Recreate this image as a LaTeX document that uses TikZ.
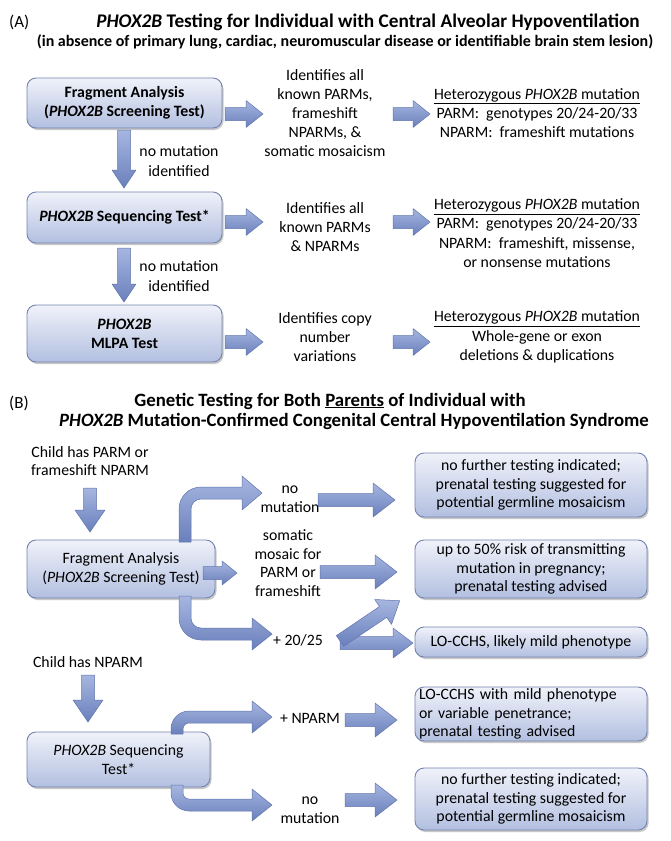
\documentclass[tikz,border=0pt]{standalone}
\usepackage{fontspec}
\setmainfont{Carlito}
\usetikzlibrary{shadows}
\definecolor{boxtop}{HTML}{F0F2FA}
\definecolor{boxbot}{HTML}{B2BFE0}
\definecolor{boxline}{HTML}{7484AE}
\definecolor{arrtop}{HTML}{A6B6E0}
\definecolor{arrbot}{HTML}{6A80BC}
\definecolor{arrline}{HTML}{6275AD}
\newcommand\bodyfnt{\fontsize{15.8}{19.2}\selectfont}
\newcommand\bodyfntB{\fontsize{15.8}{18.6}\selectfont}
\tikzset{
 gbox/.style={draw=boxline, line width=0.9pt, rounded corners=9pt, top color=boxtop, bottom color=boxbot,
   drop shadow={shadow xshift=1.5pt, shadow yshift=-2pt, opacity=0.3, fill=black!70}, inner sep=0pt, align=center},
 txt/.style={align=center, inner sep=0pt},
 barr/.style={top color=arrtop, bottom color=arrbot, draw=arrline, line width=0.5pt, line join=round},
}
\newcommand\gboxnode[7][]{%
 \pgfmathsetmacro\ZZcx{(#3+#5)/2}\pgfmathsetmacro\ZZcy{(#4+#6)/2}%
 \pgfmathsetmacro\ZZw{#5-#3}\pgfmathsetmacro\ZZh{#6-#4}%
 \node[gbox, minimum width=\ZZw pt, minimum height=\ZZh pt, #1] (#2) at (\ZZcx,\ZZcy) {#7};}
\newcommand\harr[6]{%
 \pgfmathsetmacro\ZZhx{#2-#6}%
 \path[barr] (#1,#3-#4) -- (\ZZhx,#3-#4) -- (\ZZhx,#3-#5) -- (#2,#3) -- (\ZZhx,#3+#5) -- (\ZZhx,#3+#4) -- (#1,#3+#4) -- cycle;}
\newcommand\varr[6]{%
 \pgfmathsetmacro\ZZhy{#3-#6}%
 \path[barr] (#1-#4,#2) -- (#1-#4,\ZZhy) -- (#1-#5,\ZZhy) -- (#1,#3) -- (#1+#5,\ZZhy) -- (#1+#4,\ZZhy) -- (#1+#4,#2) -- cycle;}
\newcommand\carr[8]{%
 \pgfmathsetmacro\ZZs{(#3>#2)?1:-1}%
 \pgfmathsetmacro\ZZxL{#1-#5}\pgfmathsetmacro\ZZxR{#1+#5}%
 \pgfmathsetmacro\ZZyO{#3+\ZZs*#5}\pgfmathsetmacro\ZZyI{#3-\ZZs*#5}%
 \pgfmathsetmacro\ZZr{#8}\pgfmathsetmacro\ZZri{max(#8-2*#5,0.01)}%
 \pgfmathsetmacro\ZZhx{#4-#7}%
 \pgfmathsetmacro\ZZaA{\ZZyO-\ZZs*\ZZr}\pgfmathsetmacro\ZZaB{\ZZyO-\ZZs*\ZZr*0.448}%
 \pgfmathsetmacro\ZZaC{\ZZxL+\ZZr*0.448}\pgfmathsetmacro\ZZaD{\ZZxL+\ZZr}%
 \pgfmathsetmacro\ZZbA{\ZZxR+\ZZri}\pgfmathsetmacro\ZZbB{\ZZxR+\ZZri*0.448}%
 \pgfmathsetmacro\ZZbC{\ZZyI-\ZZs*\ZZri*0.448}\pgfmathsetmacro\ZZbD{\ZZyI-\ZZs*\ZZri}%
 \pgfmathsetmacro\ZZhA{#3+\ZZs*#6}\pgfmathsetmacro\ZZhB{#3-\ZZs*#6}%
 \path[barr] (\ZZxL,#2) -- (\ZZxL,\ZZaA) .. controls (\ZZxL,\ZZaB) and (\ZZaC,\ZZyO) .. (\ZZaD,\ZZyO)
   -- (\ZZhx,\ZZyO) -- (\ZZhx,\ZZhA) -- (#4,#3) -- (\ZZhx,\ZZhB) -- (\ZZhx,\ZZyI)
   -- (\ZZbA,\ZZyI) .. controls (\ZZbB,\ZZyI) and (\ZZxR,\ZZbC) .. (\ZZxR,\ZZbD) -- (\ZZxR,#2) -- cycle;}
\begin{document}
\begin{tikzpicture}[x=1pt,y=-1pt]
\fill[white] (0,0) rectangle (670,841);
\useasboundingbox (0,0) rectangle (670,841);

% ---------------- Part A ----------------
\node[txt, anchor=west, font=\fontsize{17}{20}\selectfont] (labA) at (9,22) {(A)};
\node[txt, font=\fontsize{19.3}{22}\selectfont\bfseries] (titA1) at (368,22) {\textit{PHOX2B} Testing for Individual with Central Alveolar Hypoventilation};
\node[txt, font=\fontsize{16}{19}\selectfont\bfseries] (titA2) at (345,42) {(in absence of primary lung, cardiac, neuromuscular disease or identifiable brain stem lesion)};

\gboxnode[font=\bodyfnt\bfseries]{boxA1}{27}{78}{222}{128}{Fragment Analysis\\(\textit{PHOX2B} Screening Test)}
\gboxnode[font=\bodyfnt\bfseries]{boxA2}{27}{192}{222}{243}{\textit{PHOX2B} Sequencing Test*}
\gboxnode[font=\bodyfnt\bfseries]{boxA3}{27}{305}{222}{362}{\textit{PHOX2B}\\MLPA Test}

\harr{225}{263}{114}{6.5}{13.5}{17}
\harr{393}{430}{114}{6.5}{13.5}{17}
\harr{225}{263}{222}{6.5}{13.5}{17}
\harr{393}{430}{222}{6.5}{13.5}{17}
\harr{225}{263}{342}{6.5}{13.5}{17}
\harr{393}{430}{342}{6.5}{13.5}{17}
\varr{124}{130}{188}{6.5}{12}{18}
\varr{124}{248}{302}{6.5}{12}{18}

\node[txt, font=\bodyfnt] (midA1) at (325,113) {Identifies all\\known PARMs,\\frameshift\\NPARMs, \&\\somatic mosaicism};
\node[txt, font=\bodyfnt] (midA2) at (325,227) {Identifies all\\known PARMs\\\& NPARMs};
\node[txt, font=\bodyfnt] (midA3) at (325,337) {Identifies copy\\number\\variations};
\node[txt, font=\bodyfnt] (rA1) at (537,113) {\underline{Heterozygous \textit{PHOX2B} mutation}\\PARM:\ \ genotypes 20/24-20/33\\NPARM:\ \ frameshift mutations};
\node[txt, font=\bodyfnt] (rA2) at (537,233) {\underline{Heterozygous \textit{PHOX2B} mutation}\\PARM:\ \ genotypes 20/24-20/33\\NPARM:\ \ frameshift, missense,\\or nonsense mutations};
\node[txt, font=\bodyfnt] (rA3) at (537,337) {\underline{Heterozygous \textit{PHOX2B} mutation}\\Whole-gene or exon\\deletions \& duplications};
\node[txt, font=\bodyfnt] (nmA1) at (179,161) {no mutation\\identified};
\node[txt, font=\bodyfnt] (nmA2) at (179,276) {no mutation\\identified};

% ---------------- Part B ----------------
\node[txt, anchor=west, font=\fontsize{17}{20}\selectfont] (labB) at (9,403) {(B)};
\node[txt, font=\fontsize{18.8}{22}\selectfont\bfseries] (titB1) at (330,401) {Genetic Testing for Both \underline{Parents} of Individual with};
\node[txt, font=\fontsize{18.8}{22}\selectfont\bfseries] (titB2) at (354,421) {\textit{PHOX2B} Mutation-Confirmed Congenital Central Hypoventilation Syndrome};

\node[txt, font=\bodyfntB] (chB1) at (90,461) {Child has PARM or\\frameshift NPARM};
\node[txt, font=\bodyfntB] (chB2) at (88,662) {Child has NPARM};
\varr{90}{488}{532}{6.5}{15}{22}
\varr{88}{675}{722}{6.5}{15}{22}

\gboxnode[font=\bodyfntB]{boxB1}{27}{540}{215}{598}{Fragment Analysis\\(\textit{PHOX2B} Screening Test)}
\gboxnode[font=\bodyfntB]{boxB2}{27}{732}{210}{787}{\textit{PHOX2B} Sequencing\\Test*}

\gboxnode[font=\bodyfntB]{R1}{415}{453}{647}{517}{no further testing indicated;\\prenatal testing suggested for\\potential germline mosaicism}
\gboxnode[font=\bodyfntB]{R2}{415}{540}{647}{598}{up to 50\% risk of transmitting\\mutation in pregnancy;\\prenatal testing advised}
\gboxnode[font=\bodyfntB]{R3}{415}{627}{647}{657}{LO-CCHS, likely mild phenotype}
\gboxnode[font=\bodyfntB, text width=224pt, align=left]{R4}{415}{687}{647}{741}{LO-CCHS with mild phenotype\\or variable penetrance;\\prenatal testing advised}
\gboxnode[font=\bodyfntB]{R5}{415}{768}{647}{830}{no further testing indicated;\\prenatal testing suggested for\\potential germline mosaicism}

\carr{185}{542}{493}{262}{6}{17}{20}{22}
\harr{203}{237}{573}{6.5}{12}{15}
\carr{185}{596}{634}{272}{6}{16}{20}{22}
\carr{177}{734}{717}{272}{6}{16}{20}{18}
\carr{177}{785}{805}{272}{6}{16}{20}{18}

\node[txt, font=\bodyfntB] (nmB1) at (290,499) {no\\mutation};
\node[txt, font=\bodyfntB] (smB) at (288,563) {somatic\\mosaic for\\PARM or\\frameshift};
\node[txt, font=\bodyfntB] (p2025) at (298,640) {+ 20/25};
\node[txt, font=\bodyfntB] (pNP) at (310,718) {+ NPARM};
\node[txt, font=\bodyfntB] (nmB2) at (310,810) {no\\mutation};

\harr{318}{395}{500}{6.5}{17}{22}
\harr{320}{397}{572}{6.5}{17}{22}
\harr{340}{413}{643}{6.5}{15}{20}
\begin{scope}[shift={(340,641)}, rotate=34]
\harr{0}{72}{0}{6.5}{15}{20}
\end{scope}
\harr{345}{397}{720}{6.5}{17}{22}
\harr{345}{397}{800}{6.5}{17}{22}
\end{tikzpicture}
\end{document}
